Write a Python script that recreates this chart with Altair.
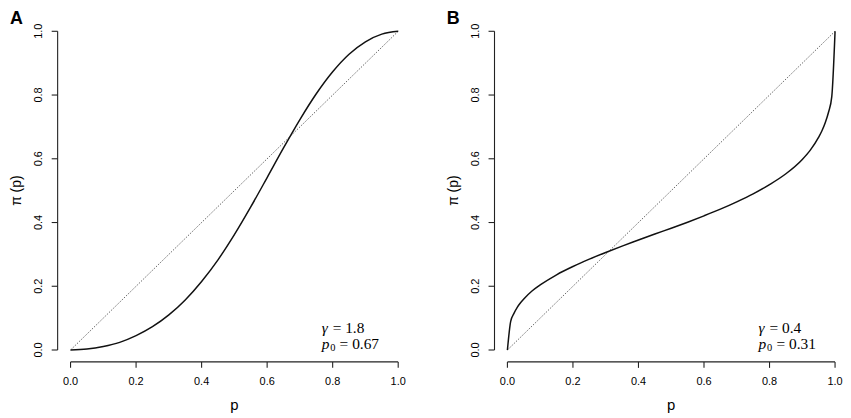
import altair as alt
import pandas as pd

# ---- data ----
p_a = [0, .05, .1, .15, .2, .25, .3, .35, .4, .45, .5, .55, .6, .65, .7, .75, .8, .85, .9, .95, 1]
pi_a = [0, 0.003, 0.011, 0.024, 0.045, 0.073, 0.110, 0.157, 0.215, 0.283, 0.362, 0.449,
        0.541, 0.634, 0.723, 0.804, 0.873, 0.928, 0.967, 0.991, 1]

p_b = [0, .01, .02, .03, .04, .05, .075, .1, .15, .2, .25, .3, .35, .4, .45, .5, .55, .6,
       .65, .7, .75, .8, .85, .9, .925, .95, .96, .97, .98, .99, 1]
pi_b = [0, 0.090, 0.115, 0.134, 0.148, 0.160, 0.185, 0.204, 0.236, 0.262, 0.285, 0.306,
        0.326, 0.345, 0.364, 0.382, 0.401, 0.421, 0.442, 0.465, 0.490, 0.519, 0.553,
        0.598, 0.628, 0.668, 0.688, 0.713, 0.746, 0.795, 1]

diag_p = [0, 1]
tick_values = [0, 0.2, 0.4, 0.6, 0.8, 1.0]
tick_labels = ["0.0", "0.2", "0.4", "0.6", "0.8", "1.0"]
panel_letters = ["A", "B"]
gamma_texts = ["= 1.8", "= 0.4"]
p0_texts = ["= 0.67", "= 0.31"]
x_title = "p"
y_title = "π (p)"

W, H = 330, 321
SANS = "Liberation Sans"
SERIF = "Liberation Serif"
XOFF, YOFF, TICK = 12, 13, 6

SC = alt.Scale(domain=[0, 1], nice=False, zero=False)


def txt(s, **kw):
    return alt.Chart(pd.DataFrame({"t": [s]})).mark_text(color="black", **kw)


def panel(p, pi, letter, gtxt, ptxt):
    df = pd.DataFrame({"p": p, "pi": pi})
    diag = pd.DataFrame({"p": diag_p, "pi": diag_p})
    ends = pd.DataFrame({"a": [diag_p[0]], "b": [diag_p[-1]]})
    ticks_df = pd.DataFrame({"tv": tick_values})
    labs_df = pd.DataFrame({"lv": tick_values, "lab": tick_labels})

    x = alt.X("p:Q", scale=SC, axis=None)
    y = alt.Y("pi:Q", scale=SC, axis=None)

    rule_kw = dict(color="#222222", strokeWidth=1.1)
    xdom = alt.Chart(ends).mark_rule(**rule_kw).encode(
        x=alt.X("a:Q", scale=SC, axis=None), x2="b:Q", y=alt.value(H + XOFF))
    xtk = alt.Chart(ticks_df).mark_rule(**rule_kw).encode(
        x=alt.X("tv:Q", scale=SC, axis=None), y=alt.value(H + XOFF),
        y2=alt.value(H + XOFF + TICK))
    ydom = alt.Chart(ends).mark_rule(**rule_kw).encode(
        y=alt.Y("a:Q", scale=SC, axis=None), y2="b:Q", x=alt.value(-YOFF))
    ytk = alt.Chart(ticks_df).mark_rule(**rule_kw).encode(
        y=alt.Y("tv:Q", scale=SC, axis=None), x=alt.value(-YOFF),
        x2=alt.value(-YOFF - TICK))
    xlab = alt.Chart(labs_df).mark_text(
        font=SANS, fontSize=11, color="black", align="center", baseline="middle"
    ).encode(x=alt.X("lv:Q", scale=SC, axis=None), y=alt.value(H + 32), text="lab:N")
    ylab = alt.Chart(labs_df).mark_text(
        font=SANS, fontSize=11, color="black", align="center", baseline="middle",
        angle=270
    ).encode(y=alt.Y("lv:Q", scale=SC, axis=None), x=alt.value(-31.5), text="lab:N")

    dline = alt.Chart(diag).mark_line(color="#666666", strokeWidth=1,
                                      strokeDash=[1.5, 1.5]).encode(x=x, y=y)
    curve = alt.Chart(df).mark_line(color="#111111", strokeWidth=1.5,
                                    interpolate="monotone").encode(x=x, y=y)
    letter_m = txt(letter, font=SANS, fontSize=18, fontWeight="bold", align="left",
                   baseline="top").encode(x=alt.value(-61), y=alt.value(-21), text="t:N")
    ytitle = txt(y_title, font=SANS, fontSize=14, angle=270, align="center",
                 baseline="middle").encode(x=alt.value(-54), y=alt.value(H / 2), text="t:N")
    xtitle = txt(x_title, font=SANS, fontSize=15, align="center",
                 baseline="middle").encode(x=alt.value(W / 2), y=alt.value(H + 55), text="t:N")
    gam = txt("γ", font=SERIF, fontSize=15.5, fontStyle="italic", align="left",
              baseline="alphabetic").encode(x=alt.value(253), y=alt.value(304), text="t:N")
    gam2 = txt(gtxt, font=SERIF, fontSize=15.5, align="left",
               baseline="alphabetic").encode(x=alt.value(264), y=alt.value(304), text="t:N")
    pp = txt("p", font=SERIF, fontSize=15.5, fontStyle="italic", align="left",
             baseline="alphabetic").encode(x=alt.value(253), y=alt.value(320), text="t:N")
    psub = txt("0", font=SERIF, fontSize=10.5, align="left",
               baseline="alphabetic").encode(x=alt.value(261.5), y=alt.value(322.5), text="t:N")
    pp2 = txt(ptxt, font=SERIF, fontSize=15.5, align="left",
              baseline="alphabetic").encode(x=alt.value(271), y=alt.value(320), text="t:N")
    return alt.layer(dline, curve, xlab, ylab, letter_m, ytitle, xtitle,
                     gam, gam2, pp, psub, pp2, xdom, xtk, ydom, ytk
                     ).properties(width=W, height=H)


chart = alt.hconcat(
    panel(p_a, pi_a, panel_letters[0], gamma_texts[0], p0_texts[0]),
    panel(p_b, pi_b, panel_letters[1], gamma_texts[1], p0_texts[1]),
    spacing=41,
).properties(
    padding={"left": 2, "top": 1, "right": 0, "bottom": 0},
    background="white",
).configure_view(stroke=None)

chart.save("out.html", embed_options={"renderer": "svg", "actions": False})
